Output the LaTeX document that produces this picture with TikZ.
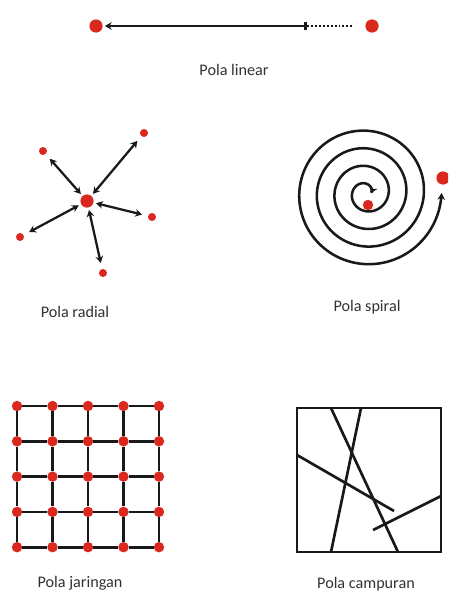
\documentclass[tikz,border=0pt]{standalone}
\usepackage{fontspec}
\setmainfont{Carlito}
\usetikzlibrary{arrows.meta, positioning}
\definecolor{DotRed}{RGB}{218,40,30}
\definecolor{LabelGray}{RGB}{50,50,50}
\definecolor{InkBlack}{RGB}{25,25,25}

\begin{document}
\begin{tikzpicture}[x=0.025cm, y=-0.025cm,
	dot/.style={circle, fill=DotRed, minimum size=0.33cm, inner sep=0pt},
	sdot/.style={circle, fill=DotRed, minimum size=0.2cm, inner sep=0pt},
	gdot/.style={circle, fill=DotRed, minimum size=0.26cm, inner sep=0pt},
	lbl/.style={font=\fontsize{11.5}{13}\selectfont, text=LabelGray},
	ln/.style={line width=1.9pt, InkBlack},
	tip/.style={Stealth[length=1.7mm, width=1.9mm]},
	spoke/.style={{Stealth[length=1.7mm, width=1.9mm]}-{Stealth[length=1.7mm, width=1.9mm]},
		line width=1.6pt, InkBlack, shorten <=0.06cm, shorten >=0.15cm}]

	\clip (0,0) rectangle (448,604);
	\fill[white] (0,0) rectangle (448,604);

	% --- linear ---
	\node[dot] (la) at (96,26) {};
	\node[dot] (lb) at (372,26) {};
	\coordinate (lm) at (307,26);
	\draw[line width=1.8pt, InkBlack, {Stealth[length=1.7mm, width=1.9mm]}-{Bar[width=2mm]}, shorten <=0.05cm] (la) -- (lm);
	\draw[line width=1.6pt, InkBlack, dash pattern=on 1.4pt off 1.4pt, shorten >=0.3cm] (lm) -- (lb);
	\node[lbl] (tlinear) at (234,70) {Pola linear};

	% --- radial ---
	\node[dot] (rc) at (87,201) {};
	\node[sdot] (r1) at (43,151) {};
	\node[sdot] (r2) at (144,133) {};
	\node[sdot] (r3) at (152,217) {};
	\node[sdot] (r4) at (103,273) {};
	\node[sdot] (r5) at (20,237) {};
	\foreach \n in {1,...,5}
		\draw[spoke] (rc) -- (r\n);
	\node[lbl] (tradial) at (75,312) {Pola radial};

	% --- spiral ---
	\draw[ln, line width=1.8pt, {Stealth[length=1.7mm, width=1.9mm]}-{Stealth[length=1.7mm, width=1.9mm]}]
		plot[domain=0:1440, samples=500, variable=\t, smooth]
		({366+(5+0.049*\t)*cos(\t)}, {193-(5+0.049*\t)*sin(\t)});
	\node[gdot] (sin) at (368,205) {};
	\node[dot] (sout) at (443,178) {};
	\node[lbl] (tspiral) at (367,307) {Pola spiral};

	% --- jaringan ---
	\foreach \i in {1,...,5}
		\foreach \j in {1,...,5}
			\node[gdot] (g-\i-\j) at ({17+35.5*(\i-1)}, {406+35.3*(\j-1)}) {};
	\foreach \i in {1,...,5}
		\foreach \a/\b in {1/2,2/3,3/4,4/5} {
			\draw[ln] (g-\i-\a) -- (g-\i-\b);
			\draw[ln] (g-\a-\i) -- (g-\b-\i);
		}
	\node[lbl] (tjaringan) at (80,583) {Pola jaringan};

	% --- campuran ---
	\draw[ln] (297,408) rectangle (441,552);
	\draw[ln] (331,408) -- (398,552);
	\draw[ln] (361,408) -- (331,552);
	\draw[ln] (297,455) -- (394,511);
	\draw[ln] (373,530) -- (441,496);
	\node[lbl] (tcampuran) at (366,584) {Pola campuran};
\end{tikzpicture}
\end{document}
